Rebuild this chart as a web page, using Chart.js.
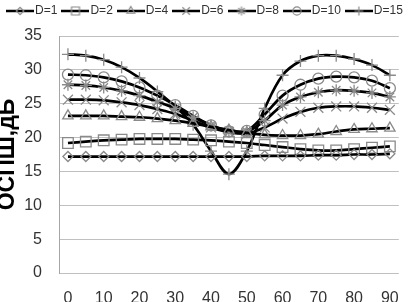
<!DOCTYPE html>
<html><head><meta charset="utf-8">
<script src="https://cdn.jsdelivr.net/npm/chart.js@4/dist/chart.umd.min.js"></script>
<style>html,body{margin:0;padding:0;background:#fff}#w{width:415px;height:302px;position:relative}</style>
</head><body><div id="w"><canvas id="c"></canvas></div>
<script>
// Categories (angle, degrees)
const angles = [0,5,10,15,20,25,30,35,40,45,50,55,60,65,70,75,80,85,90];
const seriesNames = ['D=1','D=2','D=4','D=6','D=8','D=10','D=15'];
const yTicks = [0,5,10,15,20,25,30,35];
// Series values (ОСПШ, дБ)
const d1  = [17.2,17.2,17.2,17.2,17.2,17.2,17.2,17.2,17.2,17.2,17.2,17.3,17.3,17.3,17.4,17.4,17.5,17.5,17.6];
const d2  = [19.2,19.4,19.6,19.7,19.8,19.8,19.8,19.7,19.6,19.4,19.2,18.9,18.6,18.3,18.1,18.1,18.3,18.5,18.7];
const d4  = [23.2,23.2,23.2,23.1,23.0,22.8,22.5,22.1,21.6,21.1,20.7,20.4,20.3,20.3,20.5,20.9,21.2,21.3,21.4];
const d6  = [25.6,25.6,25.5,25.2,24.8,24.2,23.5,22.5,21.5,20.8,20.6,21.5,22.8,23.8,24.4,24.6,24.6,24.4,24.1];
const d8  = [27.8,27.7,27.4,26.9,26.2,25.3,24.3,23.0,21.8,21.0,20.9,22.5,24.8,26.0,26.7,27.0,26.9,26.6,26.0];
const d10 = [29.3,29.2,28.9,28.3,27.4,26.2,24.8,23.2,21.8,20.9,21.0,23.4,26.2,27.8,28.7,29.0,28.9,28.4,27.3];
const d15 = [32.3,32.1,31.5,30.4,28.8,26.8,24.6,21.9,18.0,14.6,18.0,24.3,29.2,31.3,32.1,32.1,31.6,30.7,29.2];

const seriesValues = [d1,d2,d4,d6,d8,d10,d15];
const styles = ['rectRot','rect','triangle','crossRot','star','circle','cross'];
const radii  = [5,7.5,6,7,6,5.5,6];
const MARK = '#8a8a8a';

function legendIcon(style, radius) {
  const c = document.createElement('canvas');
  c.width = 28; c.height = 12;
  const g = c.getContext('2d');
  g.strokeStyle = '#000'; g.lineWidth = 2.5;
  g.beginPath(); g.moveTo(0,6); g.lineTo(28,6); g.stroke();
  g.strokeStyle = MARK; g.lineWidth = 1.2; g.fillStyle = 'rgba(255,255,255,0)';
  if (Chart.helpers && Chart.helpers.drawPoint) {
    Chart.helpers.drawPoint(g, {pointStyle: style, radius: radius, rotation: 0, borderWidth: 1.2}, 14, 6);
  }
  return c;
}
const icons = styles.map((s,i) => legendIcon(s, radii[i]*0.75));

const datasets = seriesNames.map((n,i) => ({
  label: n,
  data: seriesValues[i],
  borderColor: '#000',
  borderWidth: 2.7,
  tension: 0.35,
  pointStyle: styles[i],
  pointRadius: radii[i],
  pointBorderColor: MARK,
  pointBackgroundColor: 'rgba(255,255,255,0)',
  pointBorderWidth: 1.3,
  fill: false
}));

const legendSpacer = {
  id: 'legendSpacer',
  beforeInit(chart) {
    if (!chart.legend) return;
    const orig = chart.legend.fit;
    chart.legend.fit = function () { orig.call(this); this.height += 9; };
  }
};

const FONT = "'Liberation Sans', Arial, sans-serif";
new Chart(document.getElementById('c'), {
  type: 'line',
  data: { labels: angles, datasets: datasets },
  plugins: [legendSpacer],
  options: {
    responsive: true, maintainAspectRatio: false, animation: false,
    events: [],
    layout: { padding: { top: -4, right: 1, left: 0, bottom: 0 } },
    plugins: {
      tooltip: { enabled: false },
      legend: {
        position: 'top',
        labels: {
          usePointStyle: true, pointStyleWidth: 18, boxHeight: 12,
          padding: 9, color: '#333',
          font: { family: FONT, size: 12 },
          generateLabels(chart) {
            const items = Chart.defaults.plugins.legend.labels.generateLabels(chart);
            items.forEach((it,i) => { it.pointStyle = icons[i]; it.fontColor = '#333'; });
            return items;
          }
        }
      }
    },
    scales: {
      x: {
        type: 'category', offset: true,
        grid: { display: false, drawTicks: false },
        border: { display: false },
        ticks: {
          autoSkip: false, maxRotation: 0, padding: 16, color: '#333',
          font: { family: FONT, size: 16 },
          callback(v, i) { const a = angles[i]; return a % 10 === 0 ? String(a) : ''; }
        },
        afterFit(s) { s.height = 29; }
      },
      y: {
        min: 0, max: 35,
        afterBuildTicks(s) { s.ticks = yTicks.map(v => ({ value: v })); },
        grid: { color: '#c0c0c0', lineWidth: 1, drawTicks: false },
        border: { display: true, color: '#a6a6a6', width: 1 },
        ticks: { padding: 17, color: '#333', font: { family: FONT, size: 16 } },
        title: {
          display: true, text: 'ОСПШ,дБ', color: '#000',
          font: { family: FONT, size: 23, weight: 'bold' },
          padding: { top: -6, bottom: 0 }
        },
        afterFit(s) { s.width = 59; }
      }
    }
  }
});
</script>
</body></html>
